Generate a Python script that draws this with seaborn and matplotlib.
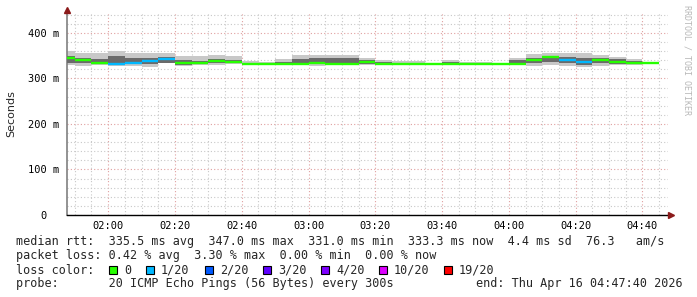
import numpy as np
import pandas as pd
import matplotlib
matplotlib.use("Agg")
import matplotlib.pyplot as plt
import matplotlib.dates as mdates
from matplotlib.patches import Rectangle
from matplotlib.ticker import MultipleLocator, FixedLocator
import seaborn as sns

# ---------------- data ----------------
slot_start = pd.date_range("2026-04-16 01:45", periods=36, freq="5min")
median_ms = [346, 340.5, 334.5, 331, 333, 338, 342, 334.5, 333, 338, 336, 332,
             331, 331.5, 332.5, 334.5, 332, 332, 336, 332.5, 332, 332, 331.5, 332,
             331.5, 331.5, 331.5, 332.5, 340, 347, 341, 336, 340, 337, 334, 333.3]
loss_count = [0, 0, 0, 1, 1, 1, 1, 0, 0, 0, 0, 0,
              0, 0, 0, 0, 0, 0, 0, 0, 0, 0, 0, 0,
              0, 0, 0, 0, 0, 0, 1, 1, 0, 0, 0, 0]
smoke_lo = [330, 327, 329, 327, 328, 326, 333, 327, 330, 330, 331, 330,
            330, 330, 329, 328, 330, 330, 330, 330, 330, 330, 330, 330,
            330, 330, 330, 329, 328, 330, 328, 326, 328, 330, 330, 331]
smoke_hi = [360, 355, 357, 361, 356, 356, 356, 350, 350, 352, 350, 338,
            337, 343, 352, 352, 352, 352, 346, 340, 338, 338, 335, 341,
            337, 336, 335, 346, 353, 356, 356, 356, 352, 347, 343, 337]
inner_lo = [335, 333, 332, 331, 331, 331, 335, 330, 331, 333, 333, 331,
            331, 331, 331, 331, 331, 331, 332, 331, 331, 331, 331, 331,
            331, 331, 331, 331, 333, 336, 333, 330, 333, 332, 331, 332]
inner_hi = [350, 345, 343, 350, 344, 345, 348, 340, 338, 342, 340, 335,
            334, 337, 342, 344, 344, 344, 340, 336, 335, 335, 333, 336,
            334, 333, 333, 340, 346, 350, 348, 346, 346, 342, 338, 335]

loss_labels = ["0", "1/20", "2/20", "3/20", "4/20", "10/20", "19/20"]
loss_colors = ["#26ff00", "#00b8ff", "#0059ff", "#5e00ff", "#7e00ff", "#dd00ff", "#ff0000"]

y_ticks = [0, 100, 200, 300, 400]
y_tick_labels = ["0  ", "100 m", "200 m", "300 m", "400 m"]
x_tick_labels = ["02:00", "02:20", "02:40", "03:00", "03:20", "03:40", "04:00", "04:20", "04:40"]

stats_line1 = "median rtt:  335.5 ms avg  347.0 ms max  331.0 ms min  333.3 ms now  4.4 ms sd  76.3   am/s"
stats_line2 = "packet loss: 0.42 % avg  3.30 % max  0.00 % min  0.00 % now"
probe_line = "probe:       20 ICMP Echo Pings (56 Bytes) every 300s"
end_line = "end: Thu Apr 16 04:47:40 2026"

# ---------------- figure ----------------
sns.set_theme(style="white")
plt.rcParams["font.family"] = ["DejaVu Sans Mono", "DejaVu Sans"]

W, H = 697, 297
fig = plt.figure(figsize=(W / 100, H / 100), dpi=100)
fig.patch.set_facecolor("white")
ax = fig.add_axes([67 / W, 82 / H, (668 - 67) / W, 203 / H])
ax.set_facecolor("white")

df = pd.DataFrame({"start": slot_start, "median": median_ms, "loss": loss_count,
                   "lo": smoke_lo, "hi": smoke_hi, "ilo": inner_lo, "ihi": inner_hi})
step = pd.Timedelta(minutes=5)
df["end"] = df["start"] + step
xs = mdates.date2num(df["start"])
xe = mdates.date2num(df["end"])
wd = xe - xs

# smoke
ax.bar(xs, df["hi"] - df["lo"], bottom=df["lo"], width=wd, align="edge",
       color="#c8c8c8", linewidth=0, zorder=2)
ax.bar(xs, df["ihi"] - df["ilo"], bottom=df["ilo"], width=wd, align="edge",
       color="#6a6a6a", linewidth=0, zorder=3)

# median, coloured by loss
cols = [loss_colors[int(l)] for l in df["loss"]]
ax.hlines(df["median"], xs, xe, colors=cols, linewidth=1.7, zorder=4)

# axes limits
x0 = mdates.date2num(pd.Timestamp("2026-04-16 01:47:40"))
x1 = mdates.date2num(pd.Timestamp("2026-04-16 04:47:40"))
ax.set_xlim(x0, x1)
ax.set_ylim(0, 446)

major_x = mdates.date2num(pd.to_datetime(["2026-04-16 " + t for t in x_tick_labels]))
ax.xaxis.set_major_locator(FixedLocator(major_x))
ax.set_xticklabels(x_tick_labels)
ax.xaxis.set_minor_locator(mdates.MinuteLocator(byminute=range(0, 60, 5)))
ax.set_yticks(y_ticks)
ax.set_yticklabels(y_tick_labels)
ax.yaxis.set_minor_locator(MultipleLocator(20))

ax.grid(which="minor", color="#c8c8c8", linestyle=(0, (1, 2)), linewidth=0.8)
ax.grid(which="major", color="#e0a0a0", linestyle=(0, (1, 2)), linewidth=0.8)
ax.set_axisbelow(True)

ax.tick_params(axis="both", which="major", labelsize=7.5, length=2.5, width=0.8,
               color="#808080", pad=3, labelcolor="#000000", direction="out")
ax.tick_params(axis="x", which="major", pad=1.5)
ax.tick_params(axis="both", which="minor", length=1.5, width=0.6, color="#a0a0a0")

for s in ["top", "right"]:
    ax.spines[s].set_visible(False)
ax.spines["left"].set_color("#808080")
ax.spines["left"].set_linewidth(1.2)
ax.spines["bottom"].set_color("#000000")
ax.spines["bottom"].set_linewidth(1.0)

# arrowheads
ax.plot([0], [1.01], marker="^", color="#8b1a1a", markersize=4, clip_on=False,
        transform=ax.transAxes, zorder=6)
ax.plot([1.005], [0], marker=">", color="#8b1a1a", markersize=4, clip_on=False,
        transform=ax.transAxes, zorder=6)

ax.set_ylabel("Seconds", family="DejaVu Sans", fontsize=8)
ax.yaxis.set_label_coords(-(67 - 16) / 601, 0.5)

def fy(py):
    return 1 - py / H

# watermark
fig.text(687 / W, fy(5), "RRDTOOL / TOBI OETIKER", rotation=-90, fontsize=6,
         color="#b8b8b8", ha="center", va="top")

fs = 8.5
fig.text(16 / W, fy(241), stats_line1, fontsize=fs, va="center", ha="left")
fig.text(16 / W, fy(256), stats_line2, fontsize=fs, va="center", ha="left")
fig.text(16 / W, fy(270), "loss color:", fontsize=fs, va="center", ha="left")
sq_x = [109, 146, 205, 263, 321, 379, 444]
lb_x = [124, 161, 220, 278, 336, 394, 459]
for c, lab, sx, lx in zip(loss_colors, loss_labels, sq_x, lb_x):
    fig.add_artist(Rectangle((sx / W, fy(274)), 8 / W, 8 / H, transform=fig.transFigure,
                             facecolor=c, edgecolor="black", linewidth=0.8))
    fig.text(lx / W, fy(270), lab, fontsize=fs, va="center", ha="left")
fig.text(16 / W, fy(284), probe_line, fontsize=fs, va="center", ha="left")
fig.text(683 / W, fy(284), end_line, fontsize=fs, va="center", ha="right")

fig.savefig("out.png", dpi=100, facecolor="white")
